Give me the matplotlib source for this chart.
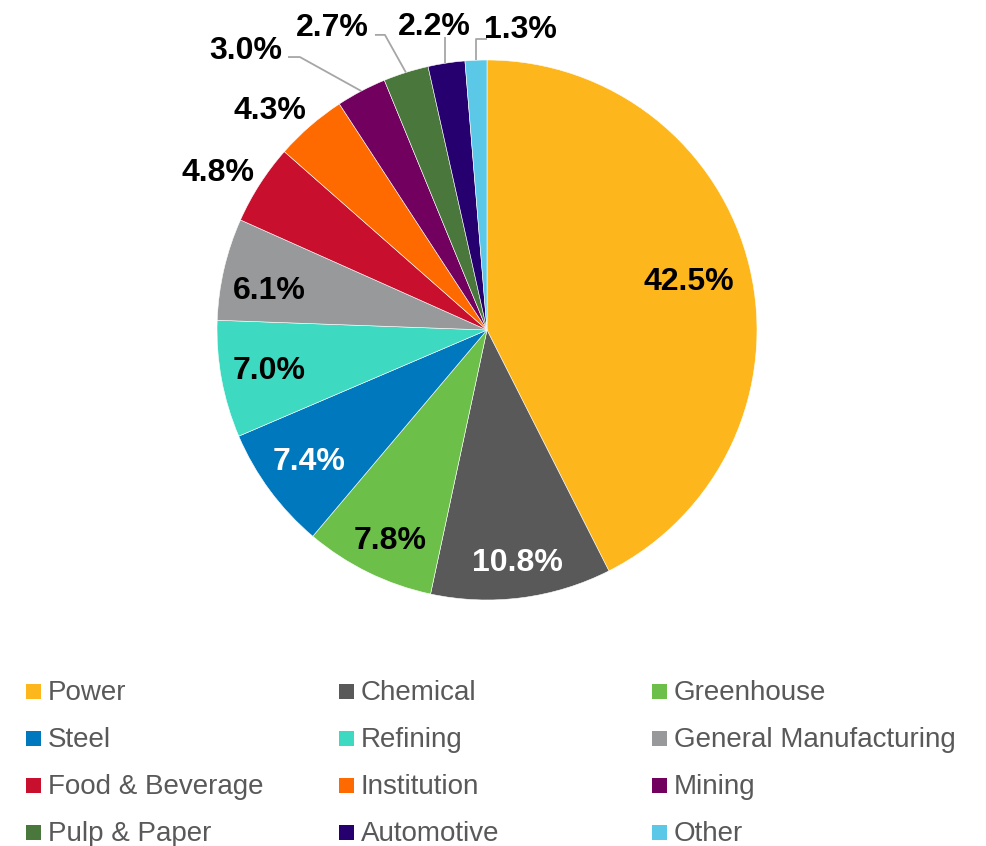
import numpy as np
import matplotlib
matplotlib.use("Agg")
import matplotlib.pyplot as plt
from matplotlib.patches import Rectangle

plt.rcParams["font.family"] = ["Liberation Sans", "DejaVu Sans"]

sectors = ["Power", "Chemical", "Greenhouse", "Steel", "Refining",
           "General Manufacturing", "Food & Beverage", "Institution",
           "Mining", "Pulp & Paper", "Automotive", "Other"]
shares = [42.5, 10.8, 7.8, 7.4, 7.0, 6.1, 4.8, 4.3, 3.0, 2.7, 2.2, 1.3]
colors = ["#FDB71C", "#595959", "#6CC04A", "#0078BE", "#3DD9C1", "#97999B",
          "#C8102E", "#FF6A00", "#71005F", "#4A773C", "#26006E", "#5BC8E8"]
label_colors = ["black", "white", "black", "white", "black", "black",
                "black", "black", "black", "black", "black", "black"]

W, H = 987, 846
fig = plt.figure(figsize=(W / 100, H / 100), dpi=100)

# pie axes: centre (487, 330) px, radius 270 px
cx, cy, R = 487, 330, 270
ax = fig.add_axes([(cx - R) / W, (H - cy - R) / H, 2 * R / W, 2 * R / H])
wedges, _ = ax.pie(shares, colors=colors, startangle=90, counterclock=False,
                   radius=1.0, wedgeprops=dict(edgecolor="white", linewidth=0.4))
ax.set_xlim(-1, 1)
ax.set_ylim(-1, 1)
ax.set_aspect("equal")
ax.axis("off")

def mid_angle(w):
    return np.deg2rad((w.theta1 + w.theta2) / 2)

# labels inside the larger slices: (radius, angle shift in degrees)
inner_pos = [(0.77, 0), (0.87, 0), (0.86, 1.5), (0.82, 0), (0.82, 0), (0.82, 3)]
for i, (r, da) in enumerate(inner_pos):
    a = mid_angle(wedges[i]) + np.deg2rad(da)
    ax.text(r * np.cos(a), r * np.sin(a), f"{shares[i]:.1f}%",
            ha="center", va="center", fontsize=23, fontweight="bold",
            color=label_colors[i])

# labels outside the small slices (text position, elbow points of leader)
outer = {
    6: ((-0.996, 0.582), None),
    7: ((-0.804, 0.811), None),
    8: ((-0.893, 1.033), [(-0.737, 1.011), (-0.693, 1.011)]),
    9: ((-0.574, 1.119), [(-0.415, 1.093), (-0.378, 1.093)]),
    10: ((-0.195, 1.122), [(-0.156, 1.085)]),
    11: ((0.122, 1.111), [(0.0, 1.078), (-0.041, 1.078)]),
}
for i, (pos, elbow) in outer.items():
    ax.text(pos[0], pos[1], f"{shares[i]:.1f}%", ha="center", va="center",
            fontsize=23, fontweight="bold", color="black", clip_on=False)
    if elbow is not None:
        a = mid_angle(wedges[i])
        end = (np.cos(a), np.sin(a))
        if i == 11:
            end = (elbow[-1][0], np.sqrt(1 - elbow[-1][0] ** 2))
        elif i == 10:
            end = (elbow[0][0], np.sqrt(1 - elbow[0][0] ** 2))
        pts = elbow + [end]
        ax.plot([p[0] for p in pts], [p[1] for p in pts], color="#A6A6A6",
                lw=1.3, clip_on=False, solid_capstyle="butt")

# legend laid out row by row, three columns
col_x = [26, 339, 652]
row_y = [691.5, 738.5, 785.5, 832.5]
sq = 15
for k, (name, c) in enumerate(zip(sectors, colors)):
    r, col = divmod(k, 3)
    x0, y0 = col_x[col], row_y[r]
    fig.patches.append(Rectangle((x0 / W, (H - y0 - sq / 2) / H), sq / W, sq / H,
                                 transform=fig.transFigure, facecolor=c,
                                 edgecolor="none"))
    fig.text((x0 + 22) / W, (H - y0 - 1) / H, name, ha="left", va="center",
             fontsize=20, color="#595959")

fig.savefig("out.png", dpi=100)
